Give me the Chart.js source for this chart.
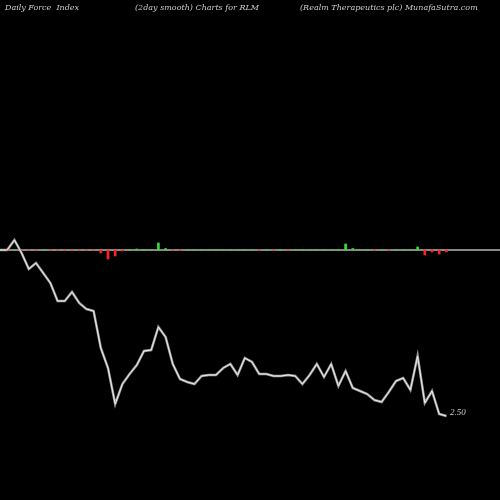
<!DOCTYPE html>
<html><head><script src="https://cdn.jsdelivr.net/npm/chart.js"></script>
<style>html,body{margin:0;background:#000}#w{width:500px;height:500px}</style></head>
<body><div id="w"><canvas id="c"></canvas></div>
<script>
// line read in screen-like units (value = 500 - pixel y)
const lineY = [250,250,240,253,269,263,273,283,301,301,292,303,309,311,348,368,404,384,374,365,351,350,327,337,364,379,382,384,376,375,375,368,364,375,358,362,
374,374,376,376,375,376,384,375,364,377,364,386,371,388,391,394,400,402,392,381,378,390,356,403,391,414,416];
const force = [0.4,-0.3,0.4,-0.3,-0.3,-0.3,0.3,-0.3,-0.3,-0.3,-0.3,-0.3,-0.3,-0.3,-3,-9,-6,-1,0.5,1,0.5,0.5,7,1.5,-0.3,-0.5,0.3,0.3,0.3,0.3,0.3,0.3,0.3,0.3,0.3,0.3,
-0.3,0.3,-0.3,0.3,-0.3,0.3,0.3,0.3,0.3,0.3,0.3,0.3,6,1.5,0.3,0.3,-0.3,0.3,-0.3,0.3,0.3,0.3,3,-5,-2,-4,-2];
const step = 7.2, zeroY = 250;
const linePts = lineY.map((v,i)=>({x:i*step,y:500-v}));
const barPts = force.map((v,i)=>({x:i*step,y:[500-zeroY,500-zeroY+v]}));
const headers = [["Daily Force  Index",5],["(2day smooth) Charts for RLM",135],["(Realm Therapeutics plc) MunafaSutra.com",300]];
const textPlugin={id:'t',afterDraw(ch){const c=ch.ctx;c.save();c.fillStyle='#ccc';c.font='italic 8px "DejaVu Serif", serif';c.textBaseline='middle';
headers.forEach(h=>c.fillText(h[0],h[1],8));
c.font='italic 9px "Liberation Serif", serif';c.fillText('2.50',450,413);c.restore();}};
new Chart(document.getElementById('c'),{
data:{datasets:[
{type:'line',data:[{x:0,y:500-zeroY},{x:500,y:500-zeroY}],borderColor:'#888',borderWidth:2,pointRadius:0,order:3},
{type:'bar',data:barPts,backgroundColor:force.map(v=>v>=0?'#33dd33':'#ff2222'),barThickness:2,order:1},
{type:'line',data:linePts,borderColor:'#999',borderWidth:2.5,pointRadius:0,tension:0,order:2},
{type:'line',data:linePts,borderColor:'#eee',borderWidth:1,pointRadius:0,tension:0,order:0}
]},
options:{responsive:true,maintainAspectRatio:false,animation:false,layout:{padding:0},
plugins:{legend:{display:false},tooltip:{enabled:false}},
scales:{x:{type:'linear',min:0,max:500,display:false,offset:false},y:{min:0,max:500,display:false}}},
plugins:[textPlugin]});
</script></body></html>
